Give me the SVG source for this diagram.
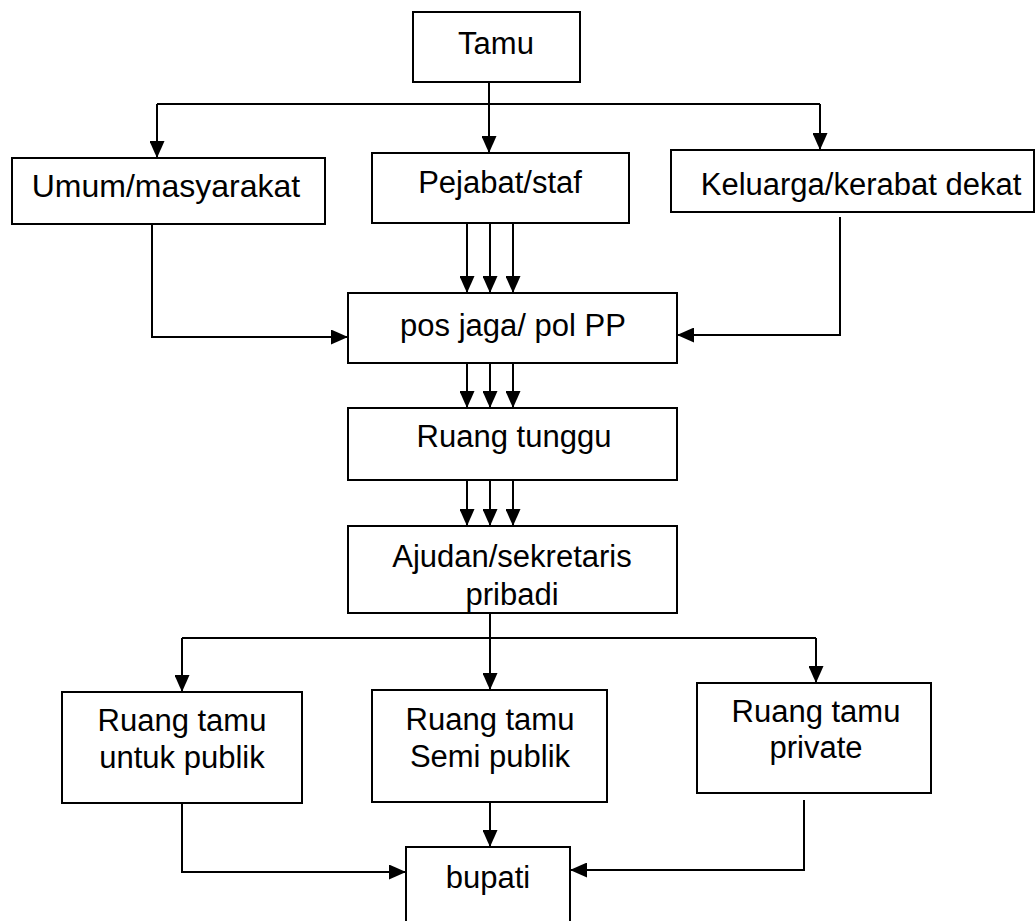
<svg xmlns="http://www.w3.org/2000/svg" width="1036" height="921" viewBox="0 0 1036 921">
<style>
.box{fill:#fff;stroke:#000;stroke-width:2}
.lbl{font-family:"Liberation Sans",Arial,sans-serif;font-size:31px;fill:#000;text-anchor:middle}
.con{fill:none;stroke:#000;stroke-width:2}
.arr{marker-end:url(#ah)}
</style>
<defs>
<marker id="ah" markerUnits="userSpaceOnUse" markerWidth="17" markerHeight="15" refX="17" refY="7.5" orient="auto">
<path d="M0,0 L17,7.5 L0,15 z" fill="#000"/>
</marker>
<clipPath id="clipAj"><rect x="348" y="526" width="329" height="86"/></clipPath>
</defs>
<rect width="1036" height="921" fill="#fff"/>
<g id="tamu"><rect class="box" x="413" y="12" width="167" height="70"/><text class="lbl" x="496" y="54">Tamu</text></g>
<g id="umum"><rect class="box" x="12" y="158" width="313" height="66"/><text class="lbl" x="166" y="197" style="font-size:32px">Umum/masyarakat</text></g>
<g id="pejabat"><rect class="box" x="372" y="153" width="257" height="70"/><text class="lbl" x="500" y="193">Pejabat/staf</text></g>
<g id="keluarga"><rect class="box" x="671" y="150" width="363" height="62"/><text class="lbl" x="861" y="195">Keluarga/kerabat dekat</text></g>
<g id="pos"><rect class="box" x="348" y="293" width="329" height="70"/><text class="lbl" x="513" y="336">pos jaga/ pol PP</text></g>
<g id="ruangtunggu"><rect class="box" x="348" y="408" width="329" height="72"/><text class="lbl" x="514" y="447">Ruang tunggu</text></g>
<g id="ajudan"><rect class="box" x="348" y="526" width="329" height="87"/><g clip-path="url(#clipAj)"><text class="lbl" x="512" y="567">Ajudan/sekretaris</text><text class="lbl" x="512" y="605">pribadi</text></g></g>
<g id="publik"><rect class="box" x="62" y="692" width="240" height="111"/><text class="lbl" x="182" y="731">Ruang tamu</text><text class="lbl" x="182" y="768">untuk publik</text></g>
<g id="semipublik"><rect class="box" x="372" y="690" width="235" height="112"/><text class="lbl" x="490" y="730">Ruang tamu</text><text class="lbl" x="490" y="767">Semi publik</text></g>
<g id="private"><rect class="box" x="697" y="683" width="234" height="110"/><text class="lbl" x="816" y="722">Ruang tamu</text><text class="lbl" x="816" y="758">private</text></g>
<g id="bupati"><rect class="box" x="406" y="847" width="164" height="80"/><text class="lbl" x="488" y="888">bupati</text></g>
<g id="connectors">
<path class="con" d="M489,82 V104"/>
<path class="con" d="M157,104 H820"/>
<path class="con arr" d="M157,104 V158"/>
<path class="con arr" d="M489,104 V153"/>
<path class="con arr" d="M820,104 V150"/>
<path class="con arr" d="M467,223 V293"/>
<path class="con arr" d="M490,223 V293"/>
<path class="con arr" d="M513,223 V293"/>
<path class="con arr" d="M152,224 V337 H348"/>
<path class="con arr" d="M840,217 V335 H677"/>
<path class="con arr" d="M467,363 V408"/>
<path class="con arr" d="M490,363 V408"/>
<path class="con arr" d="M513,363 V408"/>
<path class="con arr" d="M467,480 V526"/>
<path class="con arr" d="M490,480 V526"/>
<path class="con arr" d="M513,480 V526"/>
<path class="con" d="M490,613 V638"/>
<path class="con" d="M182,638 H816"/>
<path class="con arr" d="M182,638 V692"/>
<path class="con arr" d="M490,638 V690"/>
<path class="con arr" d="M816,638 V683"/>
<path class="con arr" d="M182,803 V872 H406"/>
<path class="con arr" d="M490,802 V847"/>
<path class="con arr" d="M804,800 V870 H570"/>
</g>
</svg>
